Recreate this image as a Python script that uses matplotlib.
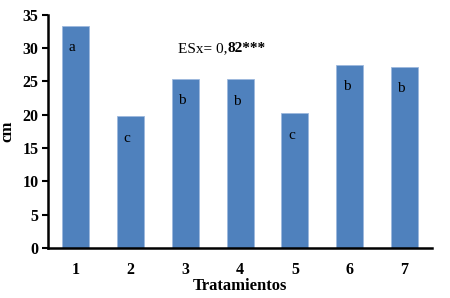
import matplotlib.pyplot as plt

plt.rcParams['font.family'] = ['Liberation Serif', 'DejaVu Serif']

tratamientos = [1, 2, 3, 4, 5, 6, 7]
altura = [33.4, 19.8, 25.4, 25.3, 20.2, 27.5, 27.2]
letras = ['a', 'c', 'b', 'b', 'c', 'b', 'b']

fig = plt.figure(figsize=(4.5, 2.98), dpi=100)
ax = fig.add_axes([0.107, 0.168, 0.853, 0.782])

ax.bar(tratamientos, altura, width=0.49, color='#4F81BD', edgecolor='#9DB9DD', linewidth=0.6)

for x, h, l in zip(tratamientos, altura, letras):
    ax.text(x - 0.06, h - 3.3, l, ha='center', va='center', fontsize=11)

ax.text(3.77, 30, 'ESx= 0,', ha='right', va='center', fontsize=11)
ax.text(3.77, 30, '82***', ha='left', va='center', fontsize=11, fontweight='bold')

ax.set_xlim(0.5, 7.5)
ax.set_ylim(0, 35)
ax.set_yticks(range(0, 36, 5))
ax.set_xticks(tratamientos)

for s in ['top', 'right']:
    ax.spines[s].set_visible(False)
for s in ['left', 'bottom']:
    ax.spines[s].set_linewidth(1.8)

ax.tick_params(axis='x', length=0, pad=10)
ax.tick_params(axis='y', length=4, width=1.5, pad=3)
for lab in ax.get_xticklabels() + ax.get_yticklabels():
    lab.set_fontweight('bold')
    lab.set_fontsize(11.5)

ax.set_xlabel('Tratamientos', fontsize=12, fontweight='bold', labelpad=0)
ax.set_ylabel('cm', fontsize=12, fontweight='bold', labelpad=5)

fig.savefig('out.png', dpi=100)
